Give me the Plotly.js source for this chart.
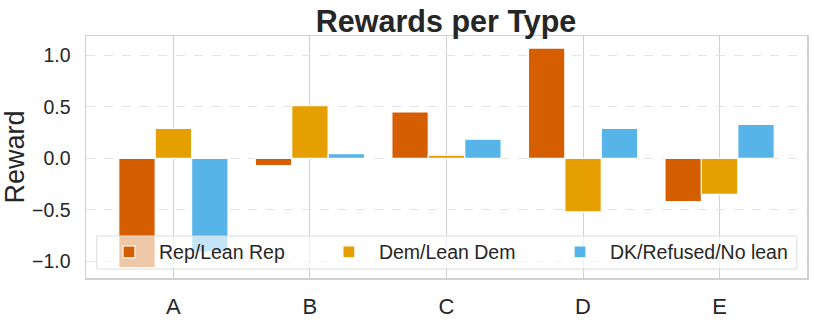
<!DOCTYPE html>
<html>
<head>
<meta charset="utf-8">
<script src="https://cdn.plot.ly/plotly-3.0.1.min.js"></script>
<style>html,body{margin:0;padding:0;background:#fff;}#chart{width:814px;height:322px;}</style>
</head>
<body>
<div id="chart"></div>
<script>
const categories = ["A", "B", "C", "D", "E"];
const seriesNames = ["Rep/Lean Rep", "Dem/Lean Dem", "DK/Refused/No lean"];
const repValues = [-1.06, -0.07, 0.45, 1.07, -0.42];
const demValues = [0.29, 0.51, 0.03, -0.52, -0.35];
const dkValues = [-0.91, 0.045, 0.185, 0.29, 0.33];
const seriesColors = ["#D55E00", "#E69F00", "#56B4E9"];
const yTickVals = [-1.0, -0.5, 0.0, 0.5, 1.0];
const yTickText = ["\u22121.0", "\u22120.5", "0.0", "0.5", "1.0"];

const legendIds = ["legend", "legend2", "legend3"];
const allValues = [repValues, demValues, dkValues];
const traces = allValues.map((vals, i) => ({
  type: "bar",
  name: seriesNames[i],
  x: categories,
  y: vals,
  legend: legendIds[i],
  marker: {color: seriesColors[i], line: {color: "#ffffff", width: 1.2}}
}));

const font = "Liberation Sans, Arial, sans-serif";
function legendAt(xPos) {
  return {
    orientation: "h", x: xPos, xanchor: "left", y: 0.107, yanchor: "middle",
    bgcolor: "rgba(0,0,0,0)", borderwidth: 0,
    font: {size: 19.5, family: font, color: "#262626"},
    itemwidth: 50
  };
}
const layout = {
  width: 814, height: 322,
  margin: {l: 86, r: 7, t: 36, b: 44, autoexpand: false},
  paper_bgcolor: "#ffffff", plot_bgcolor: "#ffffff",
  barmode: "group", bargap: 0.2, bargroupgap: 0,
  title: {text: "<b>Rewards per Type</b>", font: {family: font, size: 30.5, color: "#262626"}, x: 0.548, xanchor: "center", y: 0.935, yanchor: "middle"},
  font: {family: font, color: "#262626"},
  xaxis: {
    range: [-0.64, 4.64], showgrid: true, gridcolor: "#d0d0d0", gridwidth: 1,
    showline: true, mirror: true, linecolor: "#d0d0d0", linewidth: 1.5,
    ticks: "", ticklabelstandoff: 8, tickfont: {size: 22, family: font, color: "#262626"}, zeroline: false,
    fixedrange: true
  },
  yaxis: {
    range: [-1.162, 1.187], tickvals: yTickVals, ticktext: yTickText,
    showgrid: true, gridcolor: "#e3e3e3", gridwidth: 1, griddash: "dash",
    showline: true, mirror: true, linecolor: "#d0d0d0", linewidth: 1.5,
    zeroline: false, ticks: "", ticklabelstandoff: 10,
    tickfont: {size: 19.5, family: font, color: "#262626"},
    title: {text: "Reward", font: {size: 27, family: font, color: "#262626"}, standoff: 12}
  },
  shapes: [{
    type: "rect", xref: "paper", yref: "paper",
    x0: 0.0148, x1: 0.986, y0: 0.037, y1: 0.1736,
    fillcolor: "rgba(255,255,255,0.65)", line: {color: "#dddddd", width: 1},
    layer: "above"
  }],
  legend: legendAt(0.018),
  legend2: legendAt(0.323),
  legend3: legendAt(0.6436),
  showlegend: true
};

Plotly.newPlot("chart", traces, layout, {displayModeBar: false, staticPlot: true});
</script>
</body>
</html>
